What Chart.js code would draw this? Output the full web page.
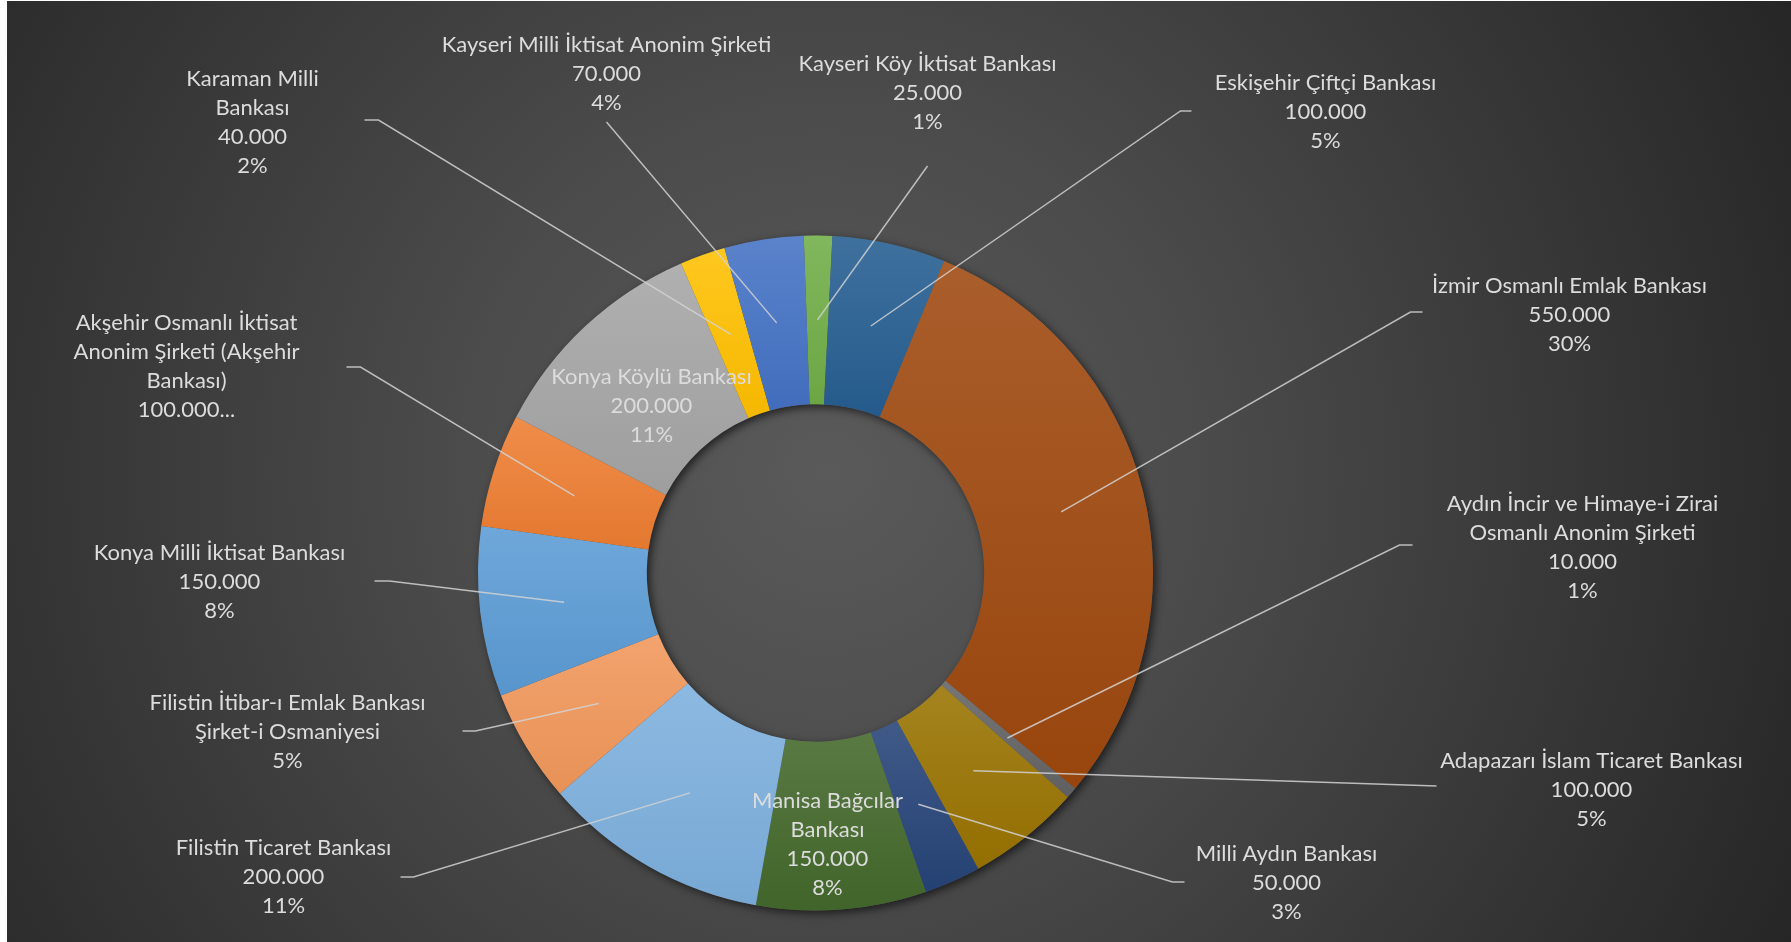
<!DOCTYPE html>
<html lang="tr">
<head>
<meta charset="utf-8">
<title>Bankalar - Sermaye</title>
<script src="https://cdn.jsdelivr.net/npm/chart.js@4.4.1/dist/chart.umd.min.js"></script>
<style>
    html, body { margin: 0; padding: 0; background: #ffffff; overflow: hidden; }
    #wrap {
        position: absolute; left: 7px; top: 1px; width: 1784px; height: 941px;
        background: radial-gradient(circle farthest-corner at 46% 50%, #5a5a5a 0%, #4b4b4b 35%, #262626 100%);
    }
</style>
</head>
<body>
<div id="wrap"><canvas id="bankChart"></canvas></div>
<script>
// Data (clockwise from the top)
const banks = [
    'Kayseri Köy İktisat Bankası',
    'Eskişehir Çiftçi Bankası',
    'İzmir Osmanlı Emlak Bankası',
    'Aydın İncir ve Himaye-i Zirai Osmanlı Anonim Şirketi',
    'Adapazarı İslam Ticaret Bankası',
    'Milli Aydın Bankası',
    'Manisa Bağcılar Bankası',
    'Filistin Ticaret Bankası',
    'Filistin İtibar-ı Emlak Bankası Şirket-i Osmaniyesi',
    'Konya Milli İktisat Bankası',
    'Akşehir Osmanlı İktisat Anonim Şirketi (Akşehir Bankası)',
    'Konya Köylü Bankası',
    'Karaman Milli Bankası',
    'Kayseri Milli İktisat Anonim Şirketi'
];
const capital = [25000, 100000, 550000, 10000, 100000, 50000, 150000, 200000, 100000, 150000, 100000, 200000, 40000, 70000];

const sliceColors = [
    '#70AD47', '#255E91', '#9E480E', '#636363', '#997300', '#264478', '#43682B',
    '#7CAFDD', '#F1975A', '#5B9BD5', '#ED7D31', '#A5A5A5', '#FFC000', '#4472C4'
];

// Label text as wrapped in the chart
const nameLines = [
    ['Kayseri Köy İktisat Bankası'],
    ['Eskişehir Çiftçi Bankası'],
    ['İzmir Osmanlı Emlak Bankası'],
    ['Aydın İncir ve Himaye-i Zirai', 'Osmanlı Anonim Şirketi'],
    ['Adapazarı İslam Ticaret Bankası'],
    ['Milli Aydın Bankası'],
    ['Manisa Bağcılar', 'Bankası'],
    ['Filistin Ticaret Bankası'],
    ['Filistin İtibar-ı Emlak Bankası', 'Şirket-i Osmaniyesi'],
    ['Konya Milli İktisat Bankası'],
    ['Akşehir Osmanlı İktisat', 'Anonim Şirketi (Akşehir', 'Bankası)'],
    ['Konya Köylü Bankası'],
    ['Karaman Milli', 'Bankası'],
    ['Kayseri Milli İktisat Anonim Şirketi']
];

// Label placement relative to the doughnut centre (dx,dy = text block centre,
// ax,ay = where the leader line starts, tick = short horizontal elbow)
const labelLayout = [
    { dx: 112, dy: -480, ax: 112, ay: -407, tick: 0 },
    { dx: 510, dy: -461, ax: 376, ay: -462, tick: -11 },
    { dx: 754, dy: -258, ax: 607, ay: -261, tick: -12 },
    { dx: 767, dy: -26, ax: 597, ay: -28, tick: -13 },
    { dx: 776, dy: 217, ax: 621, ay: 213, tick: 0 },
    { dx: 471, dy: 310, ax: 369, ay: 309, tick: -12 },
    { dx: 12, dy: 271, inside: true },
    { dx: -532, dy: 304, ax: -415, ay: 304, tick: 13 },
    { dx: -528, dy: 159, ax: -353, ay: 158, tick: 13, noValue: true },
    { dx: -596, dy: 9, ax: -441, ay: 8, tick: 15 },
    { dx: -629, dy: -207, ax: -469, ay: -206, tick: 14, clipped: true },
    { dx: -164, dy: -167, inside: true },
    { dx: -563, dy: -451, ax: -451, ay: -453, tick: 14 },
    { dx: -209, dy: -499, ax: -209, ay: -451, tick: 0 }
];

const ROTATION = -2;
const FONT = '22px Lato';
const LINE_H = 29;
const TEXT_COLOR = '#dcdcdc';
const LEADER_COLOR = 'rgba(210, 210, 210, 0.85)';

function fmt(v) {
    return String(v).replace(/\B(?=(\d{3})+(?!\d))/g, '.');
}

function mix(hex, target, amt) {
    const n = parseInt(hex.slice(1), 16);
    const r = (n >> 16) & 255, g = (n >> 8) & 255, b = n & 255;
    const m = c => Math.round(c + (target - c) * amt);
    return 'rgb(' + m(r) + ',' + m(g) + ',' + m(b) + ')';
}

// Each slice gets its own top-to-bottom shading, like the original
function sliceFill(context) {
    const chart = context.chart;
    const i = context.dataIndex;
    const base = sliceColors[i];
    const area = chart.chartArea;
    const ctrl = chart.getDatasetMeta(0).controller;
    if (!area || !ctrl || !ctrl.outerRadius) return base;
    const cy = (area.top + area.bottom) / 2;
    const total = capital.reduce((a, b) => a + b, 0);
    let acc = 0;
    for (let k = 0; k < i; k++) acc += capital[k];
    const a0 = (ROTATION - 90) * Math.PI / 180 + acc / total * Math.PI * 2;
    const a1 = a0 + capital[i] / total * Math.PI * 2;
    let yMin = Infinity, yMax = -Infinity;
    for (let s = 0; s <= 40; s++) {
        const a = a0 + (a1 - a0) * s / 40;
        [ctrl.innerRadius, ctrl.outerRadius].forEach(r => {
            const y = cy + Math.sin(a) * r;
            yMin = Math.min(yMin, y);
            yMax = Math.max(yMax, y);
        });
    }
    const grad = chart.ctx.createLinearGradient(0, yMin, 0, yMax + 1);
    grad.addColorStop(0, mix(base, 255, 0.12));
    grad.addColorStop(1, mix(base, 0, 0.04));
    return grad;
}

const ringShadow = {
    id: 'ringShadow',
    beforeDatasetsDraw(chart) {
        const arc = chart.getDatasetMeta(0).data[0];
        if (!arc) return;
        const ctx = chart.ctx;
        ctx.save();
        ctx.shadowColor = 'rgba(0, 0, 0, 0.6)';
        ctx.shadowBlur = 9;
        ctx.shadowOffsetX = 3;
        ctx.shadowOffsetY = 3;
        ctx.fillStyle = '#555555';
        ctx.beginPath();
        ctx.arc(arc.x, arc.y, arc.outerRadius, 0, Math.PI * 2);
        ctx.arc(arc.x, arc.y, arc.innerRadius, Math.PI * 2, 0, true);
        ctx.fill();
        ctx.restore();
    }
};

const callouts = {
    id: 'callouts',
    afterDatasetsDraw(chart) {
        const arcs = chart.getDatasetMeta(0).data;
        const ctx = chart.ctx;
        const cx = arcs[0].x, cy = arcs[0].y;
        const total = capital.reduce((a, b) => a + b, 0);
        ctx.save();
        // leader lines
        ctx.strokeStyle = LEADER_COLOR;
        ctx.lineWidth = 1.5;
        labelLayout.forEach((spot, i) => {
            if (spot.inside) return;
            const p = arcs[i].getCenterPoint();
            const sx = cx + spot.ax, sy = cy + spot.ay;
            ctx.beginPath();
            ctx.moveTo(sx, sy);
            if (spot.tick) ctx.lineTo(sx + spot.tick, sy);
            ctx.lineTo(p.x, p.y);
            ctx.stroke();
        });
        // label text
        ctx.font = FONT;
        ctx.fillStyle = TEXT_COLOR;
        ctx.textAlign = 'center';
        ctx.textBaseline = 'middle';
        labelLayout.forEach((spot, i) => {
            const lines = nameLines[i].slice();
            const pct = Math.round(capital[i] / total * 100) + '%';
            if (spot.clipped) {
                lines.push(fmt(capital[i]) + '...');
            } else {
                if (!spot.noValue) lines.push(fmt(capital[i]));
                lines.push(pct);
            }
            const y0 = cy + spot.dy - (lines.length - 1) * LINE_H / 2;
            lines.forEach((t, k) => ctx.fillText(t, cx + spot.dx, y0 + k * LINE_H));
        });
        ctx.restore();
    }
};

const bankCtx = document.getElementById('bankChart').getContext('2d');
const bankChart = new Chart(bankCtx, {
    type: 'doughnut',
    data: {
        labels: banks,
        datasets: [{
            data: capital,
            backgroundColor: sliceFill,
            borderWidth: 0
        }]
    },
    options: {
        responsive: true,
        maintainAspectRatio: false,
        animation: false,
        rotation: ROTATION,
        cutout: '50%',
        layout: {
            padding: { left: 400, right: 567, top: 234.5, bottom: 31.5 }
        },
        plugins: {
            legend: { display: false },
            tooltip: { enabled: false }
        }
    },
    plugins: [ringShadow, callouts]
});
</script>
</body>
</html>
